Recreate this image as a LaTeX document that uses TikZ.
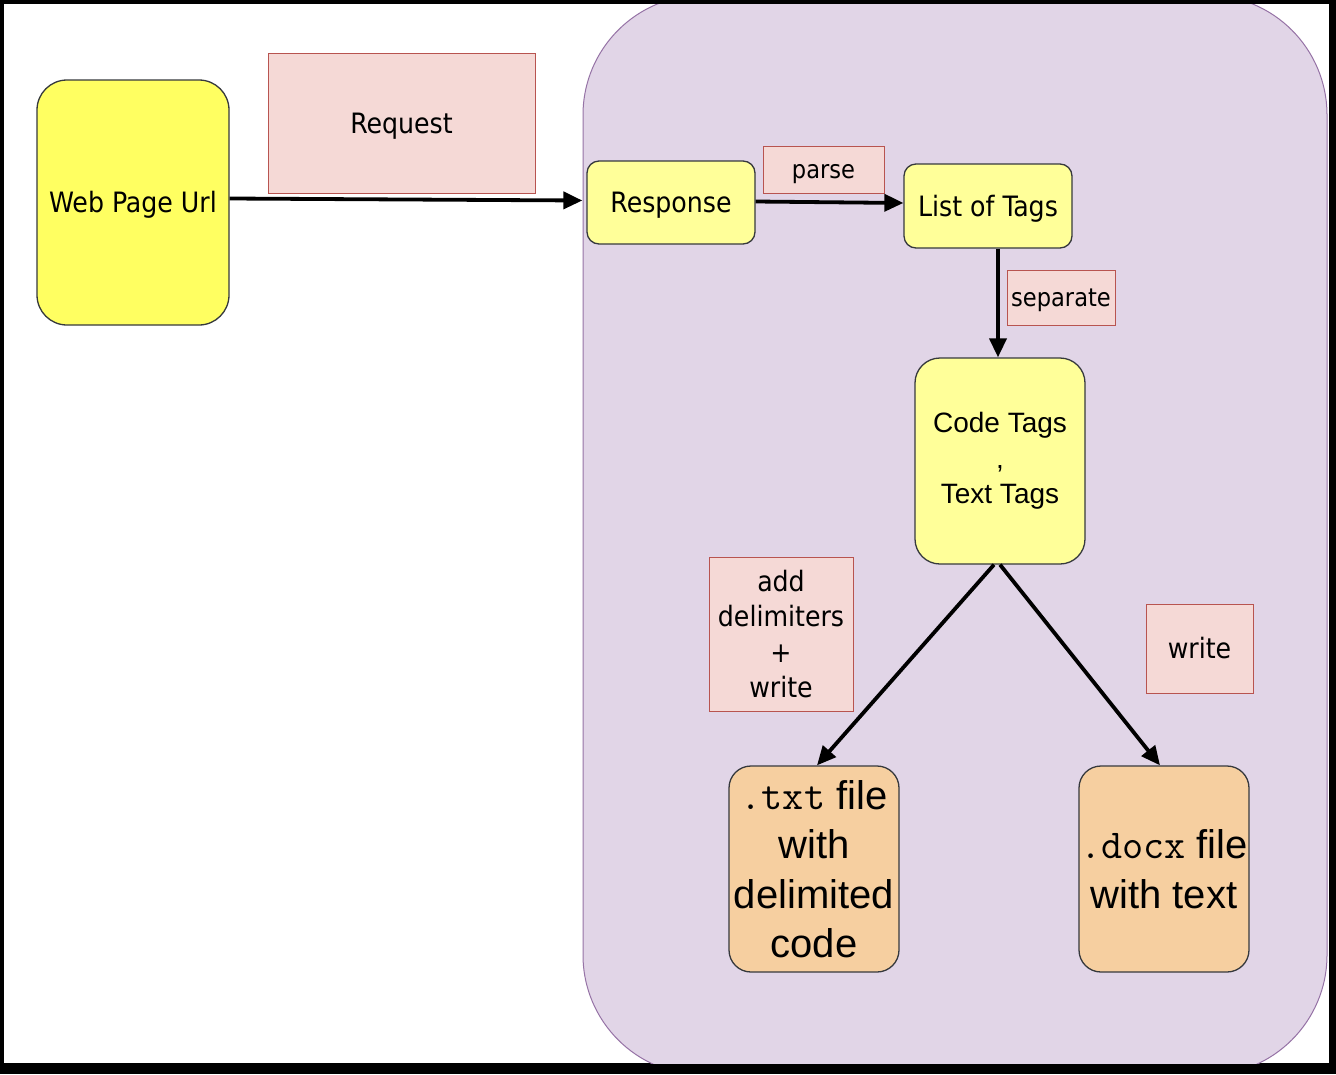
\documentclass[tikz,border=0pt]{standalone}
\usepackage{fontspec}
\IfFontExistsTF{DejaVu Sans Condensed}{\setmainfont{DejaVu Sans Condensed}\def\mainscale{1.1}}{\setmainfont{DejaVu Sans}\def\mainscale{1.0}}
\newfontfamily\arialf{Liberation Sans}
\usetikzlibrary{arrows.meta}
\definecolor{contfill}{HTML}{E1D5E7}
\definecolor{contdraw}{HTML}{9673A6}
\definecolor{ylw}{HTML}{FFFF99}
\definecolor{ylwstrong}{HTML}{FFFF61}
\definecolor{nodedraw}{HTML}{36393D}
\definecolor{lblfill}{HTML}{F5D9D6}
\definecolor{lbldraw}{HTML}{B85450}
\definecolor{orng}{HTML}{F6CFA0}
\newcommand\mfs{\fontsize{\fpeval{25.5*\mainscale}}{35.5}\selectfont}
\newcommand\sfs{\fontsize{\fpeval{22.8*\mainscale}}{30}\selectfont}
\newcommand\codefs{\ttfamily\fontsize{41}{49.5}\selectfont}
\tikzset{
  container/.style={draw=contdraw, fill=contfill, line width=1pt, rounded corners=120pt},
  oneline/.style={text height=22pt, text depth=2pt},
  ybox/.style={draw=nodedraw, fill=ylw, line width=1.3pt, rounded corners=12pt, inner sep=0pt, align=center,
    font=\mfs},
  lbl/.style={draw=lbldraw, fill=lblfill, line width=1pt, inner sep=0pt, align=center,
    font=\mfs},
  obox/.style={draw=nodedraw, fill=orng, line width=1.3pt, rounded corners=22pt, inner sep=0pt, align=center,
    font=\arialf\fontsize{40}{49.5}\selectfont},
  arr/.style={line width=3.8pt, -{Triangle[length=19pt,width=17pt]}},
}
\begin{document}
\begin{tikzpicture}[x=1pt,y=-1pt]
\useasboundingbox (0,0) rectangle (1336,1074);
\fill[black] (0,0) rectangle (1336,1074);
\fill[white] (4,4) rectangle (1329,1063);
\begin{scope}
  \clip (4,4) rectangle (1329,1063);
  \draw[container] (583,-5) rectangle (1327,1075);
\end{scope}

\node[ybox, oneline, fill=ylwstrong, rounded corners=30pt, minimum width=192pt, minimum height=245pt] (web) at (133,202.5) {Web Page Url};
\node[lbl, oneline, minimum width=267pt, minimum height=140pt] (req) at (401.5,123) {Request};
\node[ybox, oneline, minimum width=168pt, minimum height=83pt] (resp) at (671,202.5) {Response};
\node[lbl, text height=20pt, text depth=2pt, minimum width=121pt, minimum height=47pt, font=\sfs] (parse) at (823.5,169.5) {parse};
\node[ybox, oneline, minimum width=168pt, minimum height=84pt] (list) at (988,206) {List of Tags};
\node[lbl, text height=20pt, text depth=2pt, minimum width=108pt, minimum height=55pt, font=\sfs] (sep) at (1061,297.5) {separate};
\node[ybox, rounded corners=25pt, minimum width=170pt, minimum height=206pt, font=\arialf\fontsize{28}{35.5}\selectfont] (code) at (1000,461) {Code Tags\\,\\Text Tags};
\node[lbl, minimum width=144pt, minimum height=154pt] (add) at (781,634) {add\\delimiters\\+\\write};
\node[lbl, oneline, minimum width=107pt, minimum height=89pt] (write) at (1199.5,648.5) {write};
\node[obox, minimum width=170pt, minimum height=206pt] (txt) at (814,869) {{\codefs .txt} file\\with\\delimited\\code};
\node[obox, minimum width=170pt, minimum height=206pt] (docx) at (1164,869) {{\codefs .docx} file\\with text};

\draw[arr] ([yshift=4pt]web.east) -- ([xshift=-4pt,yshift=2pt]resp.west);
\draw[arr] ([yshift=1pt]resp.east) -- ([yshift=3pt]list.west);
\draw[arr] ([xshift=10pt]list.south) -- ([xshift=-2pt]code.north);
\draw[arr] ([xshift=-6pt]code.south) -- ([xshift=3pt]txt.north);
\draw[arr] (code.south) -- ([xshift=-4pt]docx.north);
\end{tikzpicture}
\end{document}
